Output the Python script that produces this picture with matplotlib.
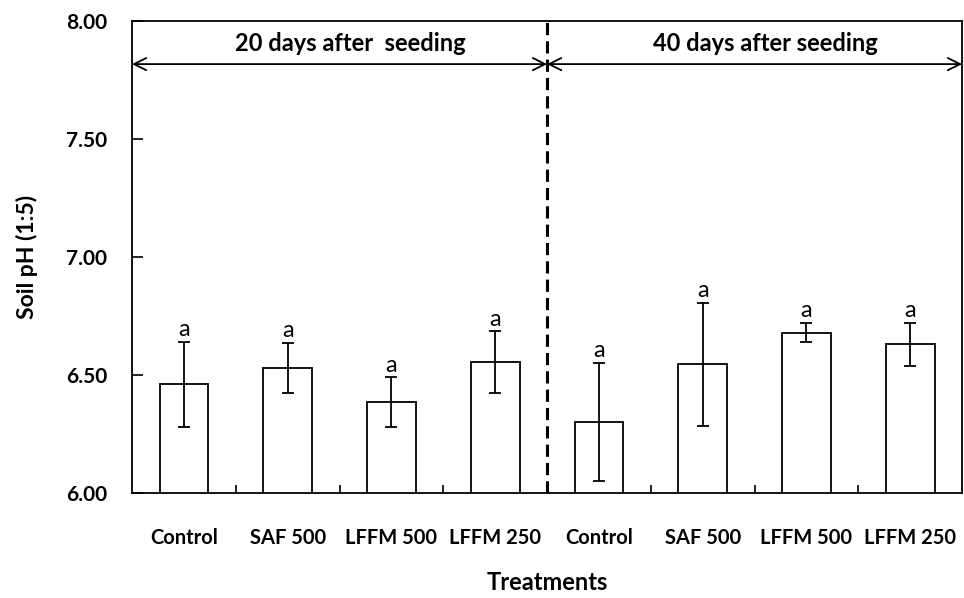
import matplotlib
matplotlib.use("Agg")
import matplotlib.pyplot as plt
import numpy as np

treatments = ["Control", "SAF 500", "LFFM 500", "LFFM 250",
              "Control", "SAF 500", "LFFM 500", "LFFM 250"]
soil_ph = [6.46, 6.53, 6.385, 6.555, 6.30, 6.545, 6.68, 6.63]
ph_err = [0.18, 0.105, 0.105, 0.13, 0.25, 0.26, 0.04, 0.09]
letters = ["a"] * 8
periods = ["20 days after  seeding", "40 days after seeding"]

plt.rcParams["font.family"] = ["Lato", "DejaVu Sans"]

fig = plt.figure(figsize=(9.64, 5.98), dpi=100)
ax = fig.add_axes([0.137, 0.1756, 0.861, 0.789])

x = np.arange(len(treatments))
ax.bar(x, soil_ph, width=0.47, bottom=0, color="white", edgecolor="black",
       linewidth=1.3, zorder=2)
ax.errorbar(x, soil_ph, yerr=ph_err, fmt="none", ecolor="black",
            elinewidth=1.3, capsize=4, capthick=1.3, zorder=3)
for xi, v, e, lab in zip(x, soil_ph, ph_err, letters):
    ax.text(xi, v + e + 0.008, lab, ha="center", va="bottom", fontsize=17)

ax.set_xlim(-0.5, len(treatments) - 0.5)
ax.set_ylim(6.0, 8.0)
ax.set_yticks([6.0, 6.5, 7.0, 7.5, 8.0])
ax.set_yticklabels(["6.00", "6.50", "7.00", "7.50", "8.00"],
                   fontsize=15, fontweight="bold")
ax.set_xticks(x)
ax.set_xticklabels(treatments, fontsize=14.5, fontweight="bold")
ax.set_xticks(np.arange(0.5, len(treatments) - 1), minor=True)
ax.tick_params(axis="x", which="major", length=0, pad=25)
ax.tick_params(axis="x", which="minor", direction="in", length=6, width=1.2)
ax.tick_params(axis="y", direction="in", length=8, width=1.2, pad=18)
for s in ax.spines.values():
    s.set_linewidth(1.3)

# split between the two sampling dates
mid = len(treatments) / 2 - 0.5
ax.axvline(mid, color="black", linestyle=(0, (4, 2)), linewidth=2.2, zorder=4)

arrow_y = 7.818
spans = [(-0.5, mid), (mid, len(treatments) - 0.5)]
for (a, b), label in zip(spans, periods):
    ax.annotate("", xy=(a, arrow_y), xytext=(b, arrow_y),
                arrowprops=dict(arrowstyle="<->", color="black", lw=1.3,
                                mutation_scale=22, shrinkA=0, shrinkB=0))
    ax.text((a + b) / 2 + 0.1, 7.907, label, ha="center", va="center",
            fontsize=17, fontweight="bold")

ax.set_ylabel("Soil pH (1:5)", fontsize=16.5, fontweight="bold", labelpad=20)
ax.set_xlabel("Treatments", fontsize=17, fontweight="bold", labelpad=17)

fig.savefig("out.png", dpi=100)
